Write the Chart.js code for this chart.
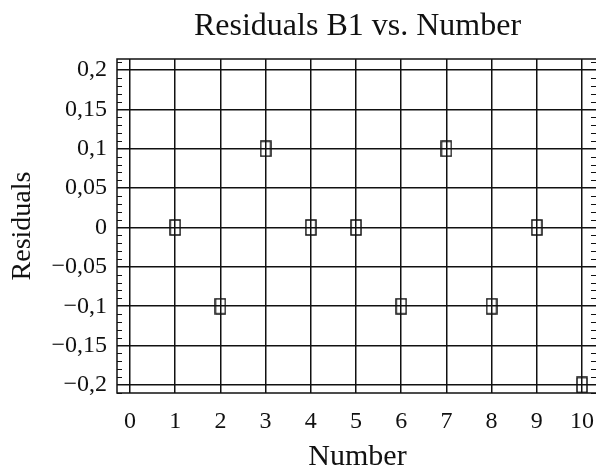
<!DOCTYPE html>
<html>
<head>
<meta charset="utf-8">
<script src="https://cdn.jsdelivr.net/npm/chart.js@4"></script>
<style>
  html, body { margin: 0; padding: 0; background: #fff; overflow: hidden; }
  canvas { display: block; }
</style>
</head>
<body>
<canvas id="residChart" width="598" height="470"></canvas>
<script>
// ── Data ────────────────────────────────────
const numbers = [1, 2, 3, 4, 5, 6, 7, 8, 9, 10];
const residuals = [0, -0.1, 0.1, 0, 0, -0.1, 0.1, -0.1, 0, -0.2];

const xTickValues = [0, 1, 2, 3, 4, 5, 6, 7, 8, 9, 10];
const yTickValues = [0.2, 0.15, 0.1, 0.05, 0, -0.05, -0.1, -0.15, -0.2];
const yTickLabels = ['0,2', '0,15', '0,1', '0,05', '0', '\u22120,05', '\u22120,1', '\u22120,15', '\u22120,2'];

const SERIF = '"Liberation Serif", "DejaVu Serif", serif';
const INK = '#111';

// tall open rectangle used as the point marker
function makeMarker() {
    const c = document.createElement('canvas');
    c.width = 12; c.height = 17;
    const g = c.getContext('2d');
    g.strokeStyle = INK;
    g.lineWidth = 1.5;
    g.strokeRect(1, 1, 10, 15);
    return c;
}

// frame around the plot + small inward minor ticks on left/right
const framePlugin = {
    id: 'frame',
    afterDraw(chart) {
        const { ctx, chartArea: a, scales } = chart;
        const y = scales.y;
        ctx.save();
        ctx.strokeStyle = INK;
        ctx.lineWidth = 1.5;
        ctx.strokeRect(a.left, a.top, a.right - a.left, a.bottom - a.top);
        ctx.lineWidth = 1.2;
        ctx.beginPath();
        for (let i = -21; i <= 21; i++) {
            if (i % 5 === 0) continue;
            const py = Math.round(y.getPixelForValue(i / 100)) + 0.5;
            ctx.moveTo(a.left, py); ctx.lineTo(a.left + 5, py);
            ctx.moveTo(a.right, py); ctx.lineTo(a.right - 7, py);
        }
        ctx.stroke();
        ctx.restore();
    }
};

new Chart(document.getElementById('residChart'), {
    type: 'scatter',
    data: {
        datasets: [{
            label: 'Residuals',
            data: numbers.map((n, i) => ({ x: n, y: residuals[i] })),
            pointStyle: makeMarker(),
            pointRadius: 6,
            pointHoverRadius: 6,
            clip: false
        }]
    },
    options: {
        responsive: false,
        animation: false,
        layout: { padding: 0, autoPadding: false },
        plugins: {
            legend: { display: false },
            tooltip: { enabled: false },
            title: {
                display: true,
                text: 'Residuals B1 vs. Number',
                color: INK,
                fullSize: false,
                font: { family: SERIF, size: 32, weight: 'normal' },
                padding: { top: 7, bottom: 13.6 }
            }
        },
        scales: {
            x: {
                type: 'linear',
                min: -0.288,
                max: 10.354,
                afterBuildTicks: s => { s.ticks = xTickValues.map(v => ({ value: v })); },
                afterFit: s => { s.height = 77; s.paddingLeft = 0; s.paddingRight = 0; },
                ticks: {
                    color: INK,
                    font: { family: SERIF, size: 24 },
                    padding: 14,
                    maxRotation: 0,
                    callback: v => String(v)
                },
                grid: { color: INK, lineWidth: 1.5, drawTicks: false },
                border: { display: false },
                title: {
                    display: true,
                    text: 'Number',
                    color: INK,
                    font: { family: SERIF, size: 30, lineHeight: 1 },
                    padding: { top: 0, bottom: -2 }
                }
            },
            y: {
                type: 'linear',
                min: -0.2102,
                max: 0.214,
                afterBuildTicks: s => { s.ticks = yTickValues.map(v => ({ value: v })); },
                afterFit: s => { s.width = 117; s.paddingTop = 0; s.paddingBottom = 0; },
                ticks: {
                    color: INK,
                    font: { family: SERIF, size: 24 },
                    padding: 10,
                    callback: (v, i) => yTickLabels[i]
                },
                grid: { color: INK, lineWidth: 1.5, drawTicks: false },
                border: { display: false },
                title: {
                    display: true,
                    text: 'Residuals',
                    color: INK,
                    font: { family: SERIF, size: 28 },
                    padding: { top: 6, bottom: 0 }
                }
            }
        }
    },
    plugins: [framePlugin]
});
</script>
</body>
</html>
